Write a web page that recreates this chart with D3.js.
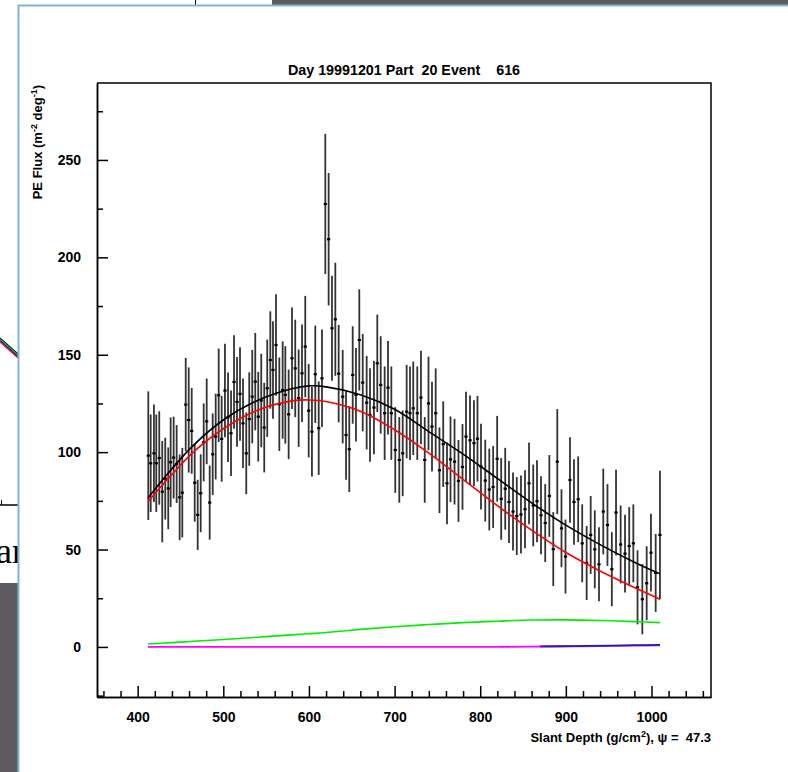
<!DOCTYPE html>
<html>
<head>
<meta charset="utf-8">
<script src="https://cdn.jsdelivr.net/npm/d3@7"></script>
<style>
  html, body { margin: 0; padding: 0; background: #fff; }
  svg { display: block; }
  .axis text { font-family: "Liberation Sans", Arial, sans-serif; font-weight: bold; font-size: 14px; fill: #000; }
  .axis path, .axis line { stroke: #000; stroke-width: 1.5; }
</style>
</head>
<body>
<div id="chart"></div>
<script>
// measured points: slant depth (g/cm2), PE flux and its error
var depth = [412.4, 415.2, 419.0, 421.7, 425.2, 428.7, 432.2, 435.7, 438.5, 442.0, 445.5, 449.0, 452.1, 456.1, 459.6, 463.1, 466.6, 470.1,
  473.6, 477.1, 480.6, 484.1, 487.6, 491.1, 494.6, 498.1, 501.9, 505.5, 509.0, 512.5, 516.0, 519.5, 523.0, 526.8, 530.3, 533.8,
  537.3, 540.8, 544.3, 547.8, 551.3, 554.9, 558.0, 561.5, 565.4, 569.3, 572.4, 576.3, 580.2, 584.0, 588.0, 591.9, 595.7, 599.7,
  603.5, 607.4, 611.4, 615.2, 619.1, 623.0, 626.9, 630.8, 634.7, 639.4, 643.3, 647.1, 651.1, 654.9, 658.8, 662.8, 667.4, 671.3,
  675.9, 679.8, 683.8, 688.4, 692.3, 696.2, 700.8, 705.5, 709.5, 714.1, 718.0, 721.8, 726.5, 730.8, 735.2, 739.6, 743.7, 748.0,
  752.4, 756.8, 761.2, 765.3, 770.0, 774.6, 779.3, 783.4, 788.1, 792.7, 796.8, 800.9, 805.9, 810.6, 815.1, 819.8, 824.5, 829.2,
  833.6, 838.3, 842.7, 847.6, 852.3, 857.0, 861.9, 866.3, 871.0, 875.9, 880.7, 885.3, 890.0, 894.9, 899.6, 904.8, 909.5, 914.4,
  919.1, 924.3, 929.0, 933.8, 938.7, 943.7, 948.6, 953.7, 958.6, 964.0, 969.1, 974.0, 978.8, 983.7, 989.3, 994.4, 999.4, 1004.9, 1009.9];

var flux = [98.2, 94.3, 99.4, 94.3, 97.0, 79.7, 86.4, 81.4, 94.8, 97.2, 93.9, 76.8, 79.2, 124.4, 116.5, 110.9, 84.3, 67.8,
  78.9, 105.0, 115.8, 74.1, 98.9, 108.0, 129.2, 106.8, 131.6, 117.9, 109.7, 136.0, 125.8, 129.9, 114.8, 99.4, 117.0, 128.5,
  136.2, 118.2, 126.5, 112.6, 132.8, 147.3, 142.2, 155.0, 124.6, 131.9, 129.4, 119.4, 148.2, 143.0, 127.7, 140.5, 154.2, 121.3,
  110.5, 140.0, 112.3, 137.9, 227.4, 209.3, 163.6, 168.2, 140.3, 128.5, 108.8, 101.5, 139.6, 129.4, 157.6, 135.7, 125.4, 119.1,
  122.9, 145.6, 134.5, 120.0, 133.1, 120.0, 101.1, 96.0, 99.4, 120.8, 120.0, 122.5, 120.0, 128.0, 96.0, 125.0, 113.1, 120.0,
  90.7, 104.1, 84.0, 96.3, 95.1, 85.2, 92.4, 108.0, 106.1, 104.6, 106.9, 92.6, 85.4, 80.8, 82.1, 96.6, 76.0, 81.2,
  74.4, 69.5, 67.2, 68.0, 70.7, 84.0, 72.6, 74.8, 67.6, 63.6, 77.5, 50.2, 95.1, 60.9, 46.4, 85.7, 74.4, 75.8,
  53.2, 43.1, 57.5, 50.1, 42.4, 69.5, 62.6, 39.9, 69.0, 52.6, 47.9, 51.8, 53.2, 30.6, 24.5, 32.7, 48.4, 38.0, 57.5];

var fluxErr = [33, 25, 25, 25, 24, 26, 21, 21, 23, 21, 20, 22, 23, 24, 27, 22, 20, 18,
  20, 20, 22, 19, 21, 22, 24, 22, 24, 23, 22, 24, 23, 24, 23, 21, 24, 24,
  25, 23, 24, 23, 25, 25, 25, 26, 24, 25, 25, 23, 26, 25, 25, 25, 26, 24,
  23, 25, 24, 25, 36, 34, 27, 29, 25, 24, 23, 22, 25, 24, 26, 25, 24, 24,
  24, 25, 25, 24, 24, 24, 22, 22, 22, 24, 24, 24, 24, 24, 22, 24, 23, 23,
  22, 22, 21, 22, 22, 21, 22, 23, 23, 22, 22, 22, 21, 21, 21, 22, 21, 21,
  21, 20, 20, 20, 20, 21, 21, 21, 20, 20, 21, 19, 27, 20, 19, 22, 22, 22,
  20, 19, 20, 20, 19, 22, 21, 19, 22, 20, 20, 20, 20, 19, 18, 19, 20, 20, 33];

// fitted profiles, sampled on a common depth grid
var fitDepth = [412, 440, 465, 500, 540, 580, 600, 620, 660, 700, 740, 780, 820, 860, 900, 940, 980, 1010];
var fitTotal = [76.5, 91.5, 103.5, 116.5, 126.5, 132.5, 134, 133.5, 129.5, 122, 110.5, 99, 86.5, 74, 62.5, 52.5, 43.5, 37.5];
var fitFluor = [74.6, 88.5, 100, 112, 121.5, 126.3, 126.8, 126, 121, 111.5, 99.5, 86, 72.5, 60, 48.5, 39, 30.5, 24.5];
var fitCher  = [1.5, 2.2, 2.9, 3.8, 5, 6.2, 6.8, 7.4, 9, 10.4, 11.5, 12.5, 13.2, 13.8, 13.9, 13.6, 13, 12.5];
var fitScat  = [0, 0, 0, 0, 0, 0, 0, 0, 0, 0, 0, 0, 0.05, 0.15, 0.3, 0.45, 0.65, 0.8];
var blueDepth = [870, 910, 950, 980, 1010];
var fitBlue   = [0.25, 0.45, 0.7, 0.9, 1.1];

var yMajor = [0, 50, 100, 150, 200, 250];
var xMajor = [400, 500, 600, 700, 800, 900, 1000];

var W = 788, H = 772;
var svg = d3.select("#chart").append("svg").attr("width", W).attr("height", H);

// slide leftovers around the pasted plot
var deco = svg.append("g");
deco.append("rect").attr("x", 272).attr("y", 0).attr("width", W - 272).attr("height", 5).attr("fill", "#5d5b60");
deco.append("line").attr("x1", 195.5).attr("x2", 195.5).attr("y1", 0).attr("y2", 5).attr("stroke", "#000");
deco.append("rect").attr("x", 0).attr("y", 583).attr("width", 18).attr("height", H - 583).attr("fill", "#5d5b60");
deco.append("line").attr("x1", 0).attr("x2", 18).attr("y1", 505).attr("y2", 505).attr("stroke", "#000").attr("stroke-width", 1.5);
deco.append("line").attr("x1", 1.5).attr("x2", 1.5).attr("y1", 500).attr("y2", 505).attr("stroke", "#000");
[["#000", -1], ["#00c000", 0], ["#0000ff", 1.5], ["#ff0000", 3]].forEach(function (c) {
  deco.append("line").attr("x1", 0).attr("y1", 339 + c[1]).attr("x2", 18).attr("y2", 355 + c[1])
    .attr("stroke", c[0]).attr("stroke-width", 1.2);
});
deco.append("text").attr("x", -4).attr("y", 563)
  .attr("font-family", "'Liberation Serif', 'DejaVu Serif', serif").attr("font-size", 36).attr("fill", "#000")
  .text("ar");
deco.append("rect").attr("x", 18).attr("y", 5).attr("width", W - 18).attr("height", H - 5).attr("fill", "#fff");
deco.append("path").attr("d", "M18.5," + H + "V5.5H" + W).attr("fill", "none").attr("stroke", "#7db7d0").attr("stroke-width", 2);

// plot area
var plot = {left: 97, right: 711, top: 83, bottom: 697};
var x = d3.scaleLinear().domain([352.5, 1069.5]).range([plot.left, plot.right]);
var y = d3.scaleLinear().domain([-25.7, 289.5]).range([plot.bottom, plot.top]);

var g = svg.append("g");

// error bars
var pts = depth.map(function (d, i) { return {x: d, y: flux[i], e: fluxErr[i]}; });
g.selectAll("line.err").data(pts).enter().append("line")
  .attr("class", "err")
  .attr("x1", function (d) { return x(d.x); })
  .attr("x2", function (d) { return x(d.x); })
  .attr("y1", function (d) { return y(d.y - d.e); })
  .attr("y2", function (d) { return y(d.y + d.e); })
  .attr("stroke", "#333")
  .attr("stroke-width", 1.8);
g.selectAll("rect.pt").data(pts).enter().append("rect")
  .attr("class", "pt")
  .attr("x", function (d) { return x(d.x) - 1.6; })
  .attr("y", function (d) { return y(d.y) - 1.1; })
  .attr("width", 3.2).attr("height", 2.2)
  .attr("fill", "#000");

// fit curves
function drawCurve(xs, ys, color, w) {
  var line = d3.line()
    .x(function (d) { return x(d[0]); })
    .y(function (d) { return y(d[1]); })
    .curve(d3.curveCatmullRom);
  g.append("path")
    .datum(xs.map(function (v, i) { return [v, ys[i]]; }))
    .attr("d", line)
    .attr("fill", "none")
    .attr("stroke", color)
    .attr("stroke-width", w);
}
drawCurve(fitDepth, fitScat, "#ff00ff", 1.8);
drawCurve(blueDepth, fitBlue, "#2020a8", 1.8);
drawCurve(fitDepth, fitCher, "#00ee00", 1.6);
drawCurve(fitDepth, fitFluor, "#ff0000", 1.6);
drawCurve(fitDepth, fitTotal, "#000", 1.6);

// axes
svg.append("g").attr("class", "axis")
  .attr("transform", "translate(" + plot.left + ",0)")
  .call(d3.axisLeft(y).tickValues(yMajor).tickSize(-11).tickSizeOuter(0).tickPadding(16).tickFormat(d3.format("d")));
svg.append("g").attr("class", "axis")
  .attr("transform", "translate(" + plot.left + ",0)")
  .call(d3.axisLeft(y).tickValues(d3.range(-25, 290, 25).filter(function (v) { return v % 50 !== 0; }))
    .tickSize(-6).tickSizeOuter(0).tickFormat(""));

svg.append("g").attr("class", "axis")
  .attr("transform", "translate(0," + plot.bottom + ")")
  .call(d3.axisBottom(x).tickValues(xMajor).tickSize(-11).tickSizeOuter(0).tickPadding(15).tickFormat(d3.format("d")));
svg.append("g").attr("class", "axis")
  .attr("transform", "translate(0," + plot.bottom + ")")
  .call(d3.axisBottom(x).tickValues(d3.range(360, 1070, 20).filter(function (v) { return v % 100 !== 0; }))
    .tickSize(-6).tickSizeOuter(0).tickFormat(""));

// frame
svg.append("path")
  .attr("d", "M" + plot.left + "," + plot.top + "H" + plot.right + "V" + plot.bottom)
  .attr("fill", "none").attr("stroke", "#000").attr("stroke-width", 1.5);

// titles
var font = "'Liberation Sans', Arial, sans-serif";
svg.append("text").attr("x", 404).attr("y", 75).attr("text-anchor", "middle")
  .attr("font-family", font).attr("font-weight", "bold").attr("font-size", 14.3)
  .attr("xml:space", "preserve")
  .text("Day 19991201 Part  20 Event    616");

var yl = svg.append("text").attr("transform", "translate(42,85) rotate(-90)").attr("text-anchor", "end")
  .attr("font-family", font).attr("font-weight", "bold").attr("font-size", 13);
yl.append("tspan").text("PE Flux (m");
yl.append("tspan").attr("dy", -5).attr("font-size", 9).text("-2");
yl.append("tspan").attr("dy", 5).text(" deg");
yl.append("tspan").attr("dy", -5).attr("font-size", 9).text("-1");
yl.append("tspan").attr("dy", 5).text(")");

var xl = svg.append("text").attr("x", plot.right).attr("y", 742).attr("text-anchor", "end")
  .attr("font-family", font).attr("font-weight", "bold").attr("font-size", 13)
  .attr("xml:space", "preserve");
xl.append("tspan").text("Slant Depth (g/cm");
xl.append("tspan").attr("dy", -5).attr("font-size", 9).text("2");
xl.append("tspan").attr("dy", 5).text("), \u03c8 =  47.3");
</script>
</body>
</html>
